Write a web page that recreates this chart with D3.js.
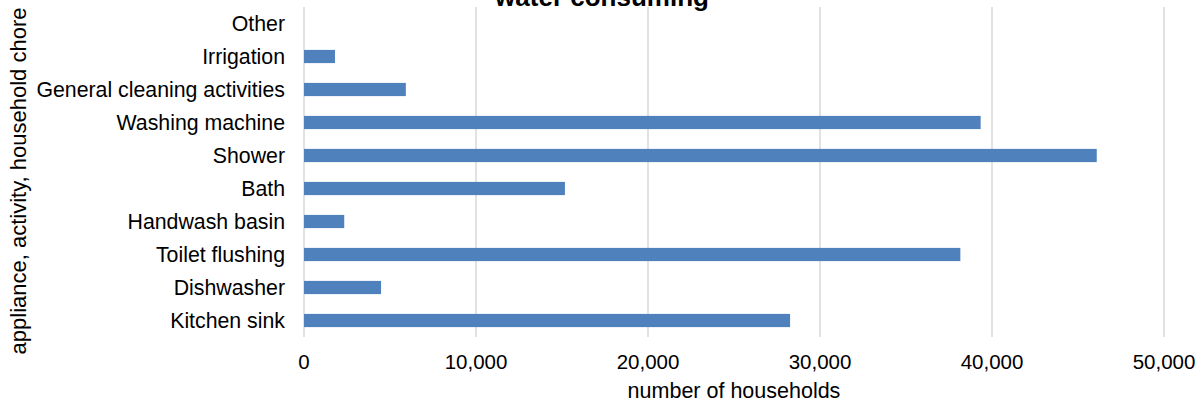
<!DOCTYPE html>
<html>
<head>
<meta charset="utf-8">
<script src="https://cdn.jsdelivr.net/npm/d3@7"></script>
<style>
  body { margin: 0; background: #fff; }
  svg text { font-family: "Liberation Sans", Arial, sans-serif; fill: #000; }
</style>
</head>
<body>
<div id="chart"></div>
<script>
// categories top to bottom, as in the chart
var categories = ["Other", "Irrigation", "General cleaning activities", "Washing machine",
  "Shower", "Bath", "Handwash basin", "Toilet flushing", "Dishwasher", "Kitchen sink"];
var households = [0, 1800, 5920, 39340, 46090, 15170, 2340, 38160, 4480, 28260];
var xTicks = [0, 10000, 20000, 30000, 40000, 50000];

var chartTitle = "water consuming";
var xTitle = "number of households";
var yTitle = "appliance, activity, household chore";

var width = 1200, height = 404;
var margin = {top: 7, right: 36, bottom: 67, left: 304};

var svg = d3.select("#chart").append("svg")
  .attr("width", width)
  .attr("height", height);

var x = d3.scaleLinear()
  .domain([0, 50000])
  .range([margin.left, width - margin.right]);

var y = d3.scaleBand()
  .domain(categories)
  .range([margin.top, height - margin.bottom])
  .paddingInner(0.6)
  .paddingOuter(0.3);

// gridlines
svg.append("g")
  .selectAll("line")
  .data(xTicks)
  .enter()
  .append("line")
  .attr("x1", function(d) { return x(d); })
  .attr("x2", function(d) { return x(d); })
  .attr("y1", margin.top)
  .attr("y2", height - margin.bottom)
  .attr("stroke", "#d9d9d9")
  .attr("stroke-width", 1.5);

// bars
svg.append("g")
  .selectAll("rect")
  .data(categories)
  .enter()
  .append("rect")
  .attr("x", x(0))
  .attr("y", function(d) { return y(d); })
  .attr("width", function(d, i) { return x(households[i]) - x(0); })
  .attr("height", y.bandwidth())
  .attr("fill", "#4f81bd");

// category labels
svg.append("g")
  .selectAll("text")
  .data(categories)
  .enter()
  .append("text")
  .attr("x", 285)
  .attr("y", function(d) { return y(d) + y.bandwidth() / 2; })
  .attr("dy", "0.35em")
  .attr("text-anchor", "end")
  .style("font-size", "21.3px")
  .text(function(d) { return d; });

// tick labels
svg.append("g")
  .selectAll("text")
  .data(xTicks)
  .enter()
  .append("text")
  .attr("x", function(d) { return x(d); })
  .attr("y", 369)
  .attr("text-anchor", "middle")
  .style("font-size", "20.5px")
  .text(function(d) { return d3.format(",")(d); });

svg.append("text")
  .attr("x", (x(0) + x(50000)) / 2)
  .attr("y", 398)
  .attr("text-anchor", "middle")
  .style("font-size", "21.5px")
  .text(xTitle);

svg.append("text")
  .attr("transform", "translate(26,181) rotate(-90)")
  .attr("text-anchor", "middle")
  .style("font-size", "22px")
  .text(yTitle);

// the title sits mostly above the top edge, as in the reference
svg.append("text")
  .attr("x", 602)
  .attr("y", 6)
  .attr("text-anchor", "middle")
  .style("font-size", "26px")
  .style("font-weight", "bold")
  .text(chartTitle);
</script>
</body>
</html>
